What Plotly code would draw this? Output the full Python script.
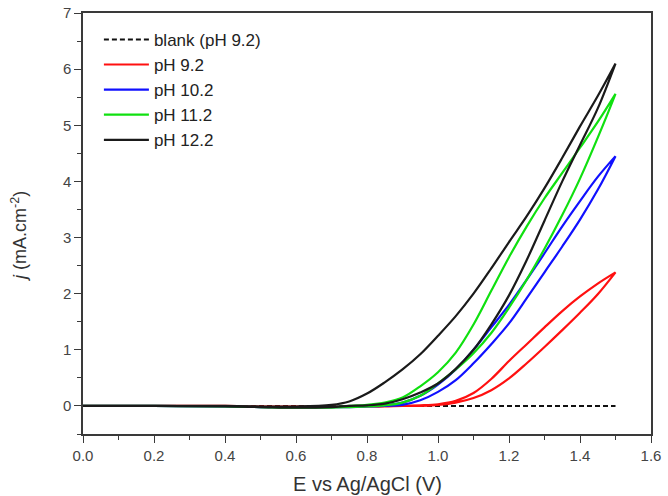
import plotly.graph_objects as go

# Potential grid (V vs Ag/AgCl), shared by all branches
E_GRID = [0.0, 0.2, 0.4, 0.5, 0.6, 0.7, 0.75, 0.8, 0.85, 0.9, 0.95, 1.0,
          1.05, 1.1, 1.15, 1.2, 1.25, 1.3, 1.35, 1.4, 1.45, 1.5]

# Current density (mA cm^-2): forward (lower) and reverse (upper) branches
j_92_fwd  = [0, 0, 0, -0.01, -0.01, -0.01, -0.01, -0.01, -0.01, 0, 0.0, 0.02,
             0.06, 0.14, 0.28, 0.49, 0.76, 1.05, 1.35, 1.66, 1.99, 2.38]
j_92_rev  = [0, 0, 0, -0.01, -0.01, -0.01, -0.01, -0.01, 0, 0.0, 0.01, 0.03,
             0.09, 0.23, 0.48, 0.80, 1.10, 1.40, 1.69, 1.95, 2.18, 2.38]
j_102_fwd = [0, 0, -0.01, -0.02, -0.02, -0.02, -0.02, -0.01, 0.0, 0.02, 0.10, 0.25,
             0.46, 0.76, 1.10, 1.47, 1.92, 2.38, 2.84, 3.32, 3.85, 4.45]
j_102_rev = [0, 0, -0.01, -0.02, -0.02, -0.02, -0.01, 0.0, 0.01, 0.06, 0.18, 0.38,
             0.65, 1.00, 1.40, 1.80, 2.25, 2.72, 3.20, 3.65, 4.08, 4.45]
j_112_fwd = [0, 0, -0.01, -0.02, -0.03, -0.03, -0.02, -0.01, 0.01, 0.06, 0.18, 0.40,
             0.65, 0.94, 1.30, 1.75, 2.25, 2.80, 3.40, 4.05, 4.78, 5.56]
j_112_rev = [0, 0, -0.01, -0.02, -0.03, -0.02, 0.0, 0.02, 0.06, 0.15, 0.35, 0.60,
             0.95, 1.45, 2.05, 2.65, 3.20, 3.70, 4.15, 4.60, 5.06, 5.56]
j_122_fwd = [0, 0, -0.01, -0.02, -0.03, -0.02, 0.0, 0.01, 0.04, 0.12, 0.24, 0.40,
             0.66, 1.00, 1.45, 1.97, 2.60, 3.30, 4.00, 4.65, 5.30, 6.10]
j_122_rev = [0, 0, 0, -0.01, -0.01, 0.02, 0.08, 0.22, 0.42, 0.65, 0.92, 1.25,
             1.60, 2.00, 2.45, 2.92, 3.38, 3.88, 4.42, 4.98, 5.52, 6.10]

E_BLANK = [0.0, 1.5]
j_BLANK = [0.0, 0.0]

SERIES = [
    ("pH 9.2", j_92_fwd, j_92_rev, "#ff1010"),
    ("pH 10.2", j_102_fwd, j_102_rev, "#1010ff"),
    ("pH 11.2", j_112_fwd, j_112_rev, "#10e010"),
    ("pH 12.2", j_122_fwd, j_122_rev, "#1a1a1a"),
]

FONT = "Arial, 'Liberation Sans', sans-serif"

fig = go.Figure()
fig.add_trace(go.Scatter(x=E_BLANK, y=j_BLANK, mode="lines", name="blank (pH 9.2)",
                         line=dict(color="#111111", width=2, dash="5px,3px")))
for name, jf, jr, col in SERIES:
    xs = E_GRID + E_GRID[::-1]
    ys = jf + jr[::-1]
    fig.add_trace(go.Scatter(x=xs, y=ys, mode="lines", name=name,
                             line=dict(color=col, width=2.2, shape="spline", smoothing=1.0)))

axis_common = dict(showline=True, mirror=True, linecolor="#3a3a3a", linewidth=1.5,
                   ticks="outside", ticklen=7, tickwidth=1.3, tickcolor="#3a3a3a",
                   showgrid=False, zeroline=False, automargin=False,
                   tickfont=dict(family=FONT, size=15, color="#444444"))

fig.update_xaxes(range=[0, 1.6], dtick=0.2, tick0=0, tickformat=".1f",
                 minor=dict(dtick=0.1, ticks="outside", ticklen=4, tickcolor="#3a3a3a"),
                 **axis_common)
fig.update_yaxes(range=[-0.5, 7], dtick=1, tick0=0,
                 minor=dict(dtick=0.5, ticks="outside", ticklen=4, tickcolor="#3a3a3a"),
                 **axis_common)

fig.add_annotation(text="E vs Ag/AgCl (V)", xref="paper", yref="paper",
                   x=0.5, y=-0.118, xanchor="center", yanchor="middle",
                   showarrow=False, font=dict(family=FONT, size=20, color="#333333"))
fig.add_annotation(text="<i>j</i> (mA.cm<sup>-2</sup>)", xref="paper", yref="paper",
                   x=-0.113, y=0.47, xanchor="center", yanchor="middle",
                   textangle=-90, showarrow=False,
                   font=dict(family=FONT, size=18, color="#333333"))

fig.update_layout(
    width=668, height=496,
    margin=dict(l=83, r=17, t=13, b=62),
    paper_bgcolor="white", plot_bgcolor="white",
    showlegend=True,
    legend=dict(x=0.028, y=0.979, xanchor="left", yanchor="top",
                bgcolor="rgba(0,0,0,0)", borderwidth=0,
                font=dict(family=FONT, size=17, color="#222222"),
                itemwidth=45, tracegroupgap=0),
)

fig.write_html("out.html")
